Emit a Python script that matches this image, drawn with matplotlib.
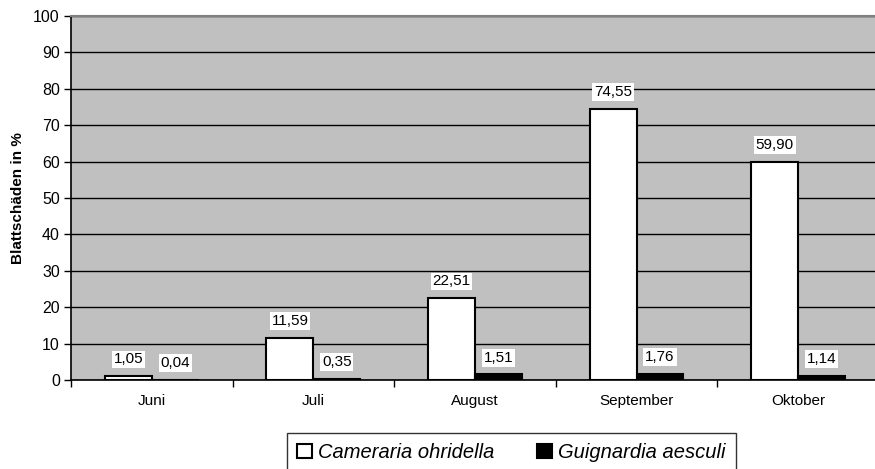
import numpy as np
import matplotlib.pyplot as plt

plt.rcParams['font.family'] = ['Liberation Sans', 'DejaVu Sans']

# Data
months = ['Juni', 'Juli', 'August', 'September', 'Oktober']
cameraria = [1.05, 11.59, 22.51, 74.55, 59.90]
guignardia = [0.04, 0.35, 1.51, 1.76, 1.14]
series_names = ['Cameraria ohridella', 'Guignardia aesculi']

fig = plt.figure(figsize=(8.75, 4.69), dpi=100)
# plot area runs slightly past the right edge, as in the original
ax = fig.add_axes([0.0811, 0.1898, 0.9234, 0.7761])
ax.set_facecolor('#C0C0C0')

x = np.arange(len(months))
w = 0.29
b1 = ax.bar(x - w / 2, cameraria, w, color='white', edgecolor='black',
            linewidth=1.5, label=series_names[0], zorder=3)
b2 = ax.bar(x + w / 2, guignardia, w, color='black', edgecolor='black',
            linewidth=1.5, label=series_names[1], zorder=3)

def fmt(v):
    return f'{v:.2f}'.replace('.', ',')

for bars, vals in [(b1, cameraria), (b2, guignardia)]:
    for rect, v in zip(bars, vals):
        ax.annotate(fmt(v), (rect.get_x() + rect.get_width() / 2, v),
                    xytext=(0, 12), textcoords='offset points',
                    ha='center', va='center', fontsize=11,
                    bbox=dict(boxstyle='square,pad=0.12', fc='white', ec='none'),
                    zorder=5)

ax.set_xlim(-0.5, len(months) - 0.5)
ax.set_ylim(0, 100)
ax.set_yticks(np.arange(0, 101, 10))
ax.yaxis.grid(True, color='black', linewidth=1)
ax.set_axisbelow(True)

ax.set_xticks(x)
ax.set_xticklabels(months, fontsize=11)
ax.set_xticks(np.arange(-0.5, len(months), 1), minor=True)
ax.tick_params(axis='x', which='major', length=0, pad=10)
ax.tick_params(axis='x', which='minor', length=5, width=1, direction='out')
ax.tick_params(axis='y', length=5, width=1, labelsize=11.5, pad=3)

ax.spines['top'].set_color('#808080')
ax.spines['top'].set_linewidth(1.5)
ax.spines['right'].set_visible(False)
ax.spines['left'].set_linewidth(1.2)
ax.spines['bottom'].set_linewidth(1.2)

ax.set_ylabel('Blattschäden in %', fontsize=11, fontweight='bold', labelpad=6)

leg = fig.legend(handles=[b1, b2], loc='upper left',
                 bbox_to_anchor=(0.328, 0.0768), ncol=2,
                 prop={'style': 'italic', 'size': 14.5},
                 frameon=True, fancybox=False, edgecolor='black',
                 handlelength=0.75, handleheight=0.75, handletextpad=0.3,
                 columnspacing=2.1, borderpad=0.5, borderaxespad=0)
leg.get_frame().set_linewidth(1)

fig.savefig('out.png', dpi=100)
